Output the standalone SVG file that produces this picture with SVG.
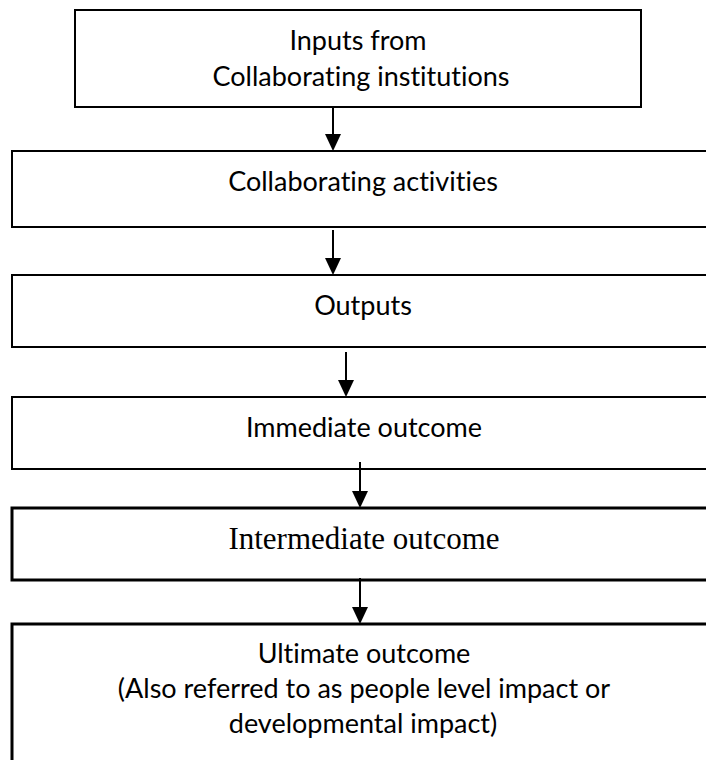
<svg xmlns="http://www.w3.org/2000/svg" width="706" height="760" viewBox="0 0 706 760">
<style>
.box{fill:#fff;stroke:#000;stroke-width:2}
.thick{stroke-width:3}
.t{font-family:Lato,"Noto Sans",sans-serif;font-size:27px;fill:#000;text-anchor:middle;font-variant-ligatures:none}
.s{font-family:"Liberation Serif",serif;font-size:31px;fill:#000;text-anchor:middle}
.c{stroke:#000;stroke-width:2;fill:none}
</style>
<rect width="706" height="760" fill="#fff"/>
<g id="n1"><rect class="box" x="75" y="10" width="566" height="97"/>
<text class="t" x="358" y="50">Inputs from</text>
<text class="t" x="361" y="86">Collaborating institutions</text></g>
<g id="n2"><rect class="box" x="12" y="151" width="710" height="76"/>
<text class="t" x="363" y="191">Collaborating activities</text></g>
<g id="n3"><rect class="box" x="12" y="275" width="710" height="72"/>
<text class="t" x="363" y="315">Outputs</text></g>
<g id="n4"><rect class="box" x="12" y="397" width="710" height="72"/>
<text class="t" x="364" y="437">Immediate outcome</text></g>
<g id="n5"><rect class="box thick" x="12" y="508" width="710" height="72"/>
<text class="s" x="364" y="549">Intermediate outcome</text></g>
<g id="n6"><rect class="box thick" x="12" y="624" width="710" height="160"/>
<text class="t" x="364" y="663">Ultimate outcome</text>
<text class="t" x="364" y="698">(Also referred to as people level impact or</text>
<text class="t" x="363" y="733">developmental impact)</text></g>
<g id="connectors">
<line class="c" x1="333" y1="107" x2="333" y2="136"/>
<path d="M325,134 L341,134 L333,151 Z"/>
<line class="c" x1="333" y1="230" x2="333" y2="260"/>
<path d="M325,258 L341,258 L333,275 Z"/>
<line class="c" x1="346" y1="352" x2="346" y2="382"/>
<path d="M338,380 L354,380 L346,397 Z"/>
<line class="c" x1="360" y1="462" x2="360" y2="493"/>
<path d="M352,491 L368,491 L360,508 Z"/>
<line class="c" x1="360" y1="578" x2="360" y2="609"/>
<path d="M352,607 L368,607 L360,624 Z"/>
</g>
</svg>
